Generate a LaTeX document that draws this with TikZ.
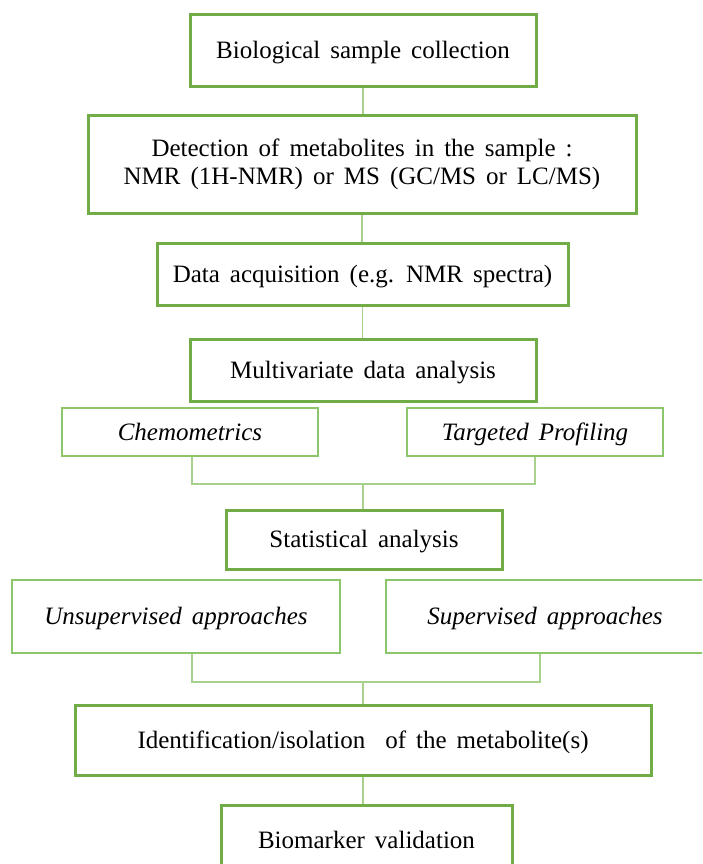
\documentclass[tikz,border=0pt]{standalone}
\usepackage{fontspec}
\setmainfont{Liberation Serif}[WordSpace=1.6]
\usetikzlibrary{calc}
\definecolor{boxgreen}{HTML}{70AD47}
\definecolor{subgreen}{HTML}{8CC66A}
\definecolor{linkgreen}{HTML}{A9D18E}
\tikzset{
  mainbox/.style={draw=boxgreen, line width=3pt, fill=white, align=center,
    inner sep=0pt, font=\fontsize{25}{28}\selectfont},
  subbox/.style={draw=subgreen, line width=1.5pt, fill=white, align=center,
    inner sep=0pt, font=\fontsize{25}{28}\selectfont\itshape},
  oneline/.style={text height=20pt, text depth=4pt},
  link/.style={draw=linkgreen, line width=1.5pt}
}
\begin{document}
\begin{tikzpicture}[x=1pt, y=-1pt]
\useasboundingbox (0,0) rectangle (702,864);
\clip (0,0) rectangle (702,864);
% main steps and the two pairs of alternatives
\node[mainbox, oneline, minimum width=346, minimum height=72] (b1) at (363,51) {Biological sample collection};
\node[mainbox, minimum width=548, minimum height=97] (b2) at (362,164.5) {Detection of metabolites in the sample :\\ NMR (1H-NMR) or MS (GC/MS or LC/MS)};
\node[mainbox, oneline, minimum width=411, minimum height=62] (b3) at (362.5,274) {Data acquisition (e.g. NMR spectra)};
\node[mainbox, oneline, minimum width=346, minimum height=62] (b4) at (363,370) {Multivariate data analysis};
\node[subbox, oneline, minimum width=256, minimum height=48] (c1) at (190,432) {Chemometrics};
\node[subbox, oneline, minimum width=256, minimum height=48] (c2) at (535,432) {Targeted Profiling};
\node[mainbox, oneline, minimum width=276, minimum height=59] (b5) at (364,539.5) {Statistical analysis};
\node[subbox, oneline, minimum width=328, minimum height=73] (u1) at (176,616.5) {Unsupervised approaches};
\node[subbox, oneline, minimum width=318, minimum height=73] (u2) at (545,616.5) {Supervised approaches};
\node[mainbox, oneline, minimum width=576, minimum height=70] (b6) at (363,740) {Identification/isolation\ \ of the metabolite(s)};
\node[mainbox, oneline, minimum width=291, minimum height=70] (b7) at (366.5,840) {Biomarker validation};
% connectors
\coordinate (j1) at (363,484);
\coordinate (j2) at (363,682);
\draw[link] (b1.south) -- (b1.south |- b2.north);
\draw[link] (b2.south) -- (b2.south |- b3.north);
\draw[link] (b3.south) -- (b3.south |- b4.north);
\draw[link] ($(c1.south)+(2,0)$) |- (j1) -| (c2.south);
\draw[link] (j1) -- (j1 |- b5.north);
\draw[link] ($(u1.south)+(16,0)$) |- (j2) -| ($(u2.south)+(-5,0)$);
\draw[link] (j2) -- (j2 |- b6.north);
\draw[link] (b6.south) -- (b6.south |- b7.north);
\end{tikzpicture}
\end{document}
